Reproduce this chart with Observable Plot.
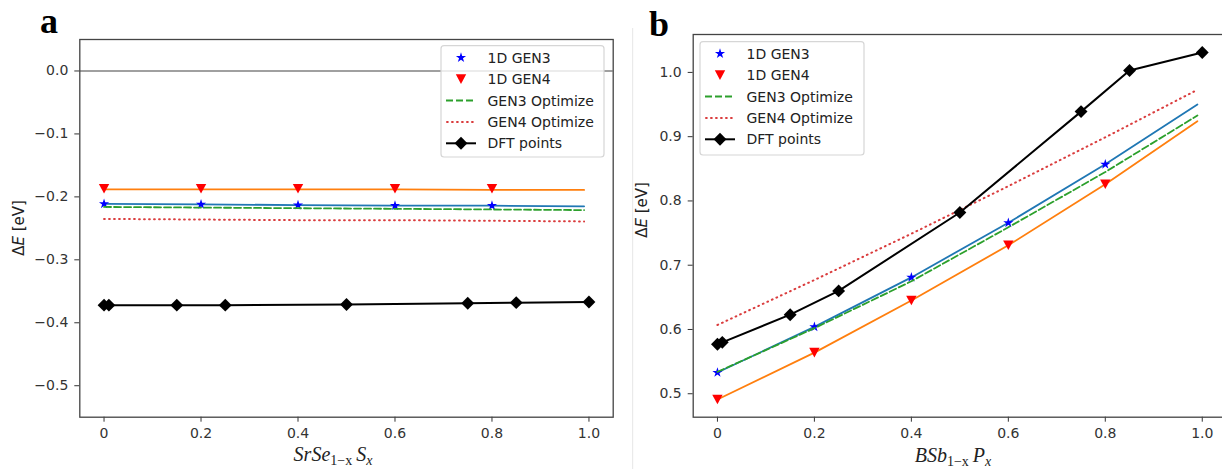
<!DOCTYPE html>
<html><head><meta charset="utf-8">
<script src="https://cdn.jsdelivr.net/npm/d3@7"></script>
<script src="https://cdn.jsdelivr.net/npm/@observablehq/plot@0.6"></script>
<style>
html,body{margin:0;padding:0;background:#fff;overflow:hidden;}
#wrap{position:relative;width:1222px;height:469px;overflow:hidden;}
#wrap svg{position:absolute;top:0;max-width:none !important;}
</style></head><body><div id="wrap"></div>
<script>
// ---------- data ----------
const xTicks = [0, 0.2, 0.4, 0.6, 0.8, 1.0];
const xTickLabels = ["0", "0.2", "0.4", "0.6", "0.8", "1.0"];
const aYTicks = [-0.5, -0.4, -0.3, -0.2, -0.1, 0.0];
const bYTicks = [0.5, 0.6, 0.7, 0.8, 0.9, 1.0];

const xGen = [0, 0.2, 0.4, 0.6, 0.8];
const xLine = [0, 0.2, 0.4, 0.6, 0.8, 0.99];
const xDFT = [0, 0.01, 0.15, 0.25, 0.5, 0.75, 0.85, 1.0];

// panel a : SrSe(1-x)S(x)
const aGen3Pts  = [-0.211, -0.212, -0.213, -0.214, -0.214];
const aGen4Pts  = [-0.187, -0.187, -0.187, -0.187, -0.187];
const aGen3Line = [-0.211, -0.212, -0.213, -0.214, -0.214, -0.215];
const aGen4Line = [-0.188, -0.188, -0.188, -0.188, -0.189, -0.189];
const aGen3Opt  = [-0.216, -0.217, -0.218, -0.219, -0.220, -0.221];
const aGen4Opt  = [-0.235, -0.236, -0.237, -0.237, -0.238, -0.239];
const aDFT      = [-0.372, -0.372, -0.372, -0.372, -0.371, -0.369, -0.368, -0.367];

// panel b : BSb(1-x)P(x)
const bGen3Pts  = [0.533, 0.604, 0.681, 0.766, 0.857];
const bGen4Pts  = [0.491, 0.564, 0.645, 0.731, 0.826];
const bGen3Line = [0.533, 0.604, 0.681, 0.766, 0.857, 0.950];
const bGen4Line = [0.491, 0.564, 0.645, 0.731, 0.826, 0.924];
const bGen3Opt  = [0.534, 0.602, 0.675, 0.759, 0.845, 0.933];
const bGen4Opt  = [0.607, 0.677, 0.749, 0.823, 0.899, 0.973];
const bDFT      = [0.577, 0.580, 0.623, 0.660, 0.782, 0.939, 1.003, 1.031];

const legendLabels = ["1D GEN3", "1D GEN4", "GEN3 Optimize", "GEN4 Optimize", "DFT points"];
const colors = {
  gen3Line: "#1f77b4", gen4Line: "#ff7f0e", gen3Opt: "#2ca02c", gen4Opt: "#d62728",
  gen3Pt: "#0000ff", gen4Pt: "#ff0000", dft: "#000000"
};

// ---------- helpers ----------
const rows = (xs, ys) => xs.map((x, i) => ({x, y: ys[i]}));
const triDown = {
  draw(ctx, size) {
    const k = Math.sqrt(size / Math.PI);
    const w = k * 1.3, h = k * 1.2;
    ctx.moveTo(-w, -h); ctx.lineTo(w, -h); ctx.lineTo(0, h); ctx.closePath();
  }
};
const STAR_R = 3.2, TRI_R = 4, DIA_R = 5.8;
const DASH = "7,3", DOT = "0.8,4.2";

function panel(o) {
  const marks = [];
  if (o.zeroLine) marks.push(Plot.ruleY([0], {stroke: "#808080", strokeWidth: 1.5}));
  marks.push(
    Plot.line(rows(xLine, o.gen3Line), {x: "x", y: "y", stroke: colors.gen3Line, strokeWidth: 1.8}),
    Plot.dot(rows(xGen, o.gen3Pts), {x: "x", y: "y", symbol: "star", r: STAR_R, fill: colors.gen3Pt, stroke: "none"}),
    Plot.line(rows(xLine, o.gen4Line), {x: "x", y: "y", stroke: colors.gen4Line, strokeWidth: 1.8}),
    Plot.dot(rows(xGen, o.gen4Pts), {x: "x", y: "y", symbol: triDown, r: TRI_R, fill: colors.gen4Pt, stroke: "none"}),
    Plot.line(rows(xLine, o.gen3Opt), {x: "x", y: "y", stroke: colors.gen3Opt, strokeWidth: 1.8, strokeDasharray: DASH}),
    Plot.line(rows(xLine, o.gen4Opt), {x: "x", y: "y", stroke: colors.gen4Opt, strokeWidth: 2, strokeDasharray: DOT, strokeLinecap: "round", strokeOpacity: 0.9}),
    Plot.line(rows(xDFT, o.dft), {x: "x", y: "y", stroke: colors.dft, strokeWidth: 2}),
    Plot.dot(rows(xDFT, o.dft), {x: "x", y: "y", symbol: "diamond2", r: DIA_R, fill: colors.dft, stroke: "none"}),
    Plot.axisX({ticks: xTicks, tickFormat: d => xTickLabels[xTicks.indexOf(d)], tickSize: 5, tickPadding: 6, label: null}),
    Plot.axisY({ticks: o.yTicks, tickFormat: d3.format(".1f"), tickSize: 5, tickPadding: 6.5, label: null}),
    Plot.frame({stroke: "#444", strokeWidth: 1.3})
  );
  const svg = Plot.plot({
    width: o.width, height: 469,
    marginLeft: o.mL, marginRight: o.mR, marginTop: o.mT, marginBottom: o.mB,
    x: {domain: [-0.05, 1.05]},
    y: {domain: o.yDomain},
    style: {fontFamily: "DejaVu Sans", fontSize: "14px", color: "#333", background: "transparent", overflow: "visible"},
    marks
  });
  svg.style.left = o.left + "px";
  return svg;
}

function addLegend(svg, x0, y0, w, h) {
  const g = d3.select(svg).append("g").attr("text-anchor", "start");
  g.append("rect").attr("x", x0).attr("y", y0).attr("width", w).attr("height", h)
    .attr("rx", 3).attr("fill", "#fff").attr("fill-opacity", 0.8)
    .attr("stroke", "#d6d6d6").attr("stroke-width", 1.2);
  const mx = x0 + 20, hx0 = x0 + 5, hx1 = x0 + 35, tx = x0 + 46.5;
  legendLabels.forEach((lab, i) => {
    const cy = y0 + 12 + i * 21.4;
    if (i === 0) g.append("path").attr("transform", `translate(${mx},${cy})`)
      .attr("d", d3.symbol(d3.symbolStar, Math.PI * STAR_R * STAR_R)()).attr("fill", colors.gen3Pt);
    if (i === 1) g.append("path").attr("transform", `translate(${mx},${cy})`)
      .attr("d", d3.symbol(triDown, Math.PI * TRI_R * TRI_R)()).attr("fill", colors.gen4Pt);
    if (i === 2) g.append("line").attr("x1", hx0).attr("x2", hx1).attr("y1", cy).attr("y2", cy)
      .attr("stroke", colors.gen3Opt).attr("stroke-width", 1.8).attr("stroke-dasharray", DASH);
    if (i === 3) g.append("line").attr("x1", hx0 + 1).attr("x2", hx1).attr("y1", cy).attr("y2", cy)
      .attr("stroke", colors.gen4Opt).attr("stroke-width", 2).attr("stroke-dasharray", DOT)
      .attr("stroke-linecap", "round").attr("stroke-opacity", 0.9);
    if (i === 4) {
      g.append("line").attr("x1", hx0).attr("x2", hx1).attr("y1", cy).attr("y2", cy)
        .attr("stroke", colors.dft).attr("stroke-width", 2);
      g.append("path").attr("transform", `translate(${mx},${cy})`)
        .attr("d", d3.symbol(d3.symbolDiamond2, Math.PI * DIA_R * DIA_R)()).attr("fill", colors.dft);
    }
    g.append("text").attr("x", tx).attr("y", cy).attr("dy", "0.36em").attr("text-anchor", "start")
      .attr("font-family", "DejaVu Sans").attr("font-size", 14).attr("fill", "#222").text(lab);
  });
}

function addYLabel(svg, cx, cy) {
  const t = d3.select(svg).append("text")
    .attr("transform", `translate(${cx},${cy}) rotate(-90)`)
    .attr("text-anchor", "middle").attr("dy", "0.35em")
    .attr("font-family", "DejaVu Sans").attr("font-size", 15).attr("fill", "#222");
  t.append("tspan").text("Δ");
  t.append("tspan").attr("font-style", "italic").text("E");
  t.append("tspan").text(" [eV]");
}

function addXLabel(svg, cx, by, main, sub1, main2, sub2) {
  const t = d3.select(svg).append("text")
    .attr("x", cx).attr("y", by).attr("text-anchor", "middle")
    .attr("font-family", "Liberation Serif").attr("font-size", 20).attr("fill", "#222");
  t.append("tspan").attr("font-style", "italic").text(main);
  t.append("tspan").attr("font-size", 14).attr("dy", 4).text(sub1);
  t.append("tspan").attr("font-style", "italic").attr("dy", -4).text("\u2009" + main2);
  t.append("tspan").attr("font-style", "italic").attr("font-size", 14).attr("dy", 4).text(sub2);
}

function addTag(svg, x, y, s) {
  d3.select(svg).append("text").attr("x", x).attr("y", y).attr("text-anchor", "start")
    .attr("font-family", "Liberation Serif").attr("font-weight", "bold")
    .attr("font-size", 36).attr("fill", "#000").text(s);
}

// ---------- build ----------
const wrap = document.getElementById("wrap");

const svgA = panel({
  left: 0, width: 632, mL: 79.3, mR: 19.3, mT: 39, mB: 52.3,
  yDomain: [-0.55, 0.05], yTicks: aYTicks, zeroLine: true,
  gen3Pts: aGen3Pts, gen4Pts: aGen4Pts, gen3Line: aGen3Line, gen4Line: aGen4Line,
  gen3Opt: aGen3Opt, gen4Opt: aGen4Opt, dft: aDFT
});
addLegend(svgA, 441, 45.7, 163, 111.3);
addYLabel(svgA, 18.5, 228);
addXLabel(svgA, 333, 461, "SrSe", "1\u2212x", "S", "x");
addTag(svgA, 40, 33, "a");
wrap.appendChild(svgA);

const svgB = panel({
  left: 632, width: 601, mL: 60.7, mR: 7, mT: 34, mB: 52.3,
  yDomain: [0.4635, 1.059], yTicks: bYTicks, zeroLine: false,
  gen3Pts: bGen3Pts, gen4Pts: bGen4Pts, gen3Line: bGen3Line, gen4Line: bGen4Line,
  gen3Opt: bGen3Opt, gen4Opt: bGen4Opt, dft: bDFT
});
addLegend(svgB, 68, 41.7, 164, 113.3);
addYLabel(svgB, 10, 210);
addXLabel(svgB, 321, 462, "BSb", "1\u2212x", "P", "x");
addTag(svgB, 17, 36, "b");
d3.select(svgB).append("line").attr("x1", 0.7).attr("x2", 0.7).attr("y1", 28).attr("y2", 469)
  .attr("stroke", "#e6e6e6").attr("stroke-width", 1);
wrap.appendChild(svgB);
</script></body></html>
